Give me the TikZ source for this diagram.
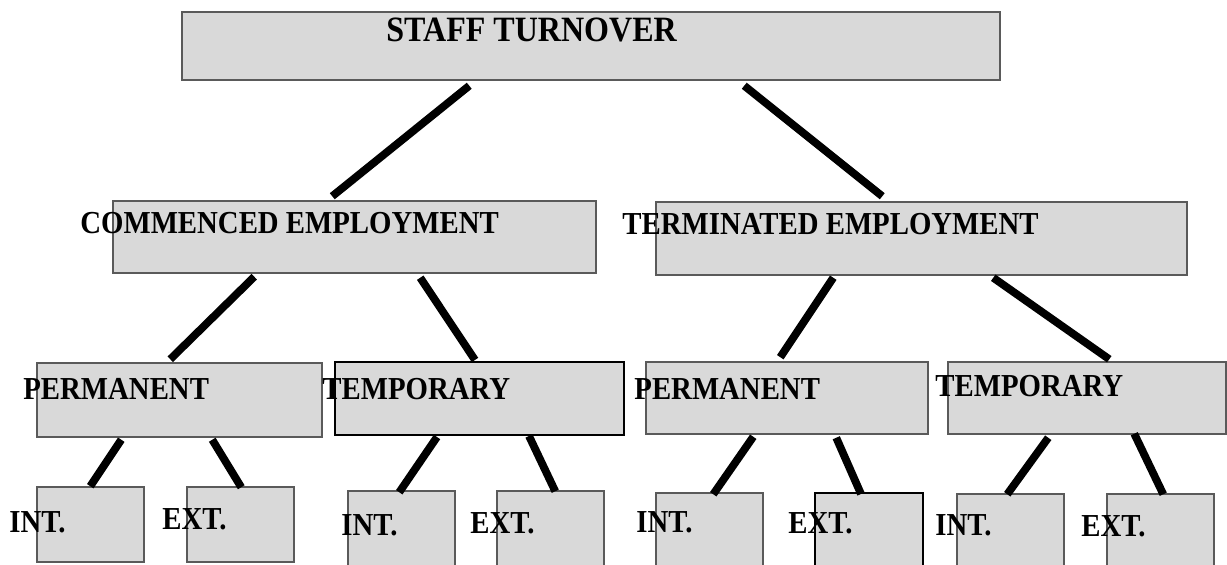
\documentclass[tikz,border=0pt]{standalone}
\usepackage{fontspec}
\setmainfont{Liberation Serif}
\newfontfamily\narrowserif[FakeStretch=0.9]{Liberation Serif}
\usetikzlibrary{fit,calc}
\definecolor{boxfill}{RGB}{217,217,217}
\definecolor{boxline}{RGB}{90,90,90}
\tikzset{
  box/.style={draw=boxline, line width=0.75pt, fill=boxfill, inner sep=0pt, rectangle},
  darkbox/.style={box, draw=black, line width=1pt},
  conn/.style={line width=3.9pt, black, line cap=butt},
  lbl/.style={anchor=west, inner sep=0pt, text depth=0pt, font=\narrowserif\bfseries\fontsize{16}{18}\selectfont},
  ttl/.style={lbl, font=\narrowserif\bfseries\fontsize{17.8}{20}\selectfont}
}
\begin{document}
\begin{tikzpicture}[x=0.5pt, y=-0.5pt]
\useasboundingbox (0,0) rectangle (1227,565);
\clip (0,0) rectangle (1227,565);
% boxes
\node[box, fit={(182,12) (1000,80)}] (top) {};
\node[box, fit={(113,201) (596,273)}] (com) {};
\node[box, fit={(656,202) (1187,275)}] (ter) {};
\node[box, fit={(37,363) (322,437)}] (pL) {};
\node[darkbox, fit={(335,362) (624,435)}] (tL) {};
\node[box, fit={(646,362) (928,434)}] (pR) {};
\node[box, fit={(948,362) (1226,434)}] (tR) {};
\node[box, fit={(37,487) (144,562)}] (iL1) {};
\node[box, fit={(187,487) (294,562)}] (eL1) {};
\node[box, fit={(348,491) (455,575)}] (iL2) {};
\node[box, fit={(497,491) (604,575)}] (eL2) {};
\node[box, fit={(656,493) (763,575)}] (iR1) {};
\node[darkbox, fit={(815,493) (923,575)}] (eR1) {};
\node[box, fit={(957,494) (1064,575)}] (iR2) {};
\node[box, fit={(1107,494) (1214,575)}] (eR2) {};
% connectors
\draw[conn] ($(top.south west)+(288,5)$) -- ($(com.north west)+(220,-4)$);
\draw[conn] ($(top.south west)+(563,5)$) -- ($(ter.north west)+(227,-5)$);
\draw[conn] ($(com.south west)+(142,3)$) -- ($(pL.north west)+(134,-3)$);
\draw[conn] ($(com.south west)+(308,4)$) -- ($(tL.north west)+(141,-1)$);
\draw[conn] ($(ter.south west)+(178,2)$) -- ($(pR.north west)+(135,-4)$);
\draw[conn] ($(ter.south west)+(338,2)$) -- ($(tR.north west)+(162,-2)$);
\draw[conn] ($(pL.south west)+(85,2)$) -- ($(iL1.north west)+(54,0)$);
\draw[conn] ($(pL.south west)+(176,2)$) -- ($(eL1.north west)+(55,1)$);
\draw[conn] ($(tL.south west)+(103,1)$) -- ($(iL2.north west)+(52,2)$);
\draw[conn] ($(tL.south west)+(195,0)$) -- ($(eL2.north west)+(59,1)$);
\draw[conn] ($(pR.south west)+(108,2)$) -- ($(iR1.north west)+(58,2)$);
\draw[conn] ($(pR.south west)+(191,3)$) -- ($(eR1.north west)+(47,2)$);
\draw[conn] ($(tR.south west)+(101,3)$) -- ($(iR2.north west)+(51,1)$);
\draw[conn] ($(tR.south west)+(187,-1)$) -- ($(eR2.north west)+(57,1)$);
% labels
\node[ttl] (tTop) at (386,30) {STAFF TURNOVER};
\node[lbl] (tCom) at (80,223) {COMMENCED EMPLOYMENT};
\node[lbl] (tTer) at (622,224) {TERMINATED EMPLOYMENT};
\node[lbl] (tpL) at (23,389) {PERMANENT};
\node[lbl] (ttL) at (322,389) {TEMPORARY};
\node[lbl] (tpR) at (634,389) {PERMANENT};
\node[lbl] (ttR) at (935,386) {TEMPORARY};
\node[lbl] (tiL1) at (9,522) {INT.};
\node[lbl] (teL1) at (162,519) {EXT.};
\node[lbl] (tiL2) at (341,525) {INT.};
\node[lbl] (teL2) at (470,523) {EXT.};
\node[lbl] (tiR1) at (636,522) {INT.};
\node[lbl] (teR1) at (788,523) {EXT.};
\node[lbl] (tiR2) at (935,525) {INT.};
\node[lbl] (teR2) at (1081,526) {EXT.};
\end{tikzpicture}
\end{document}
